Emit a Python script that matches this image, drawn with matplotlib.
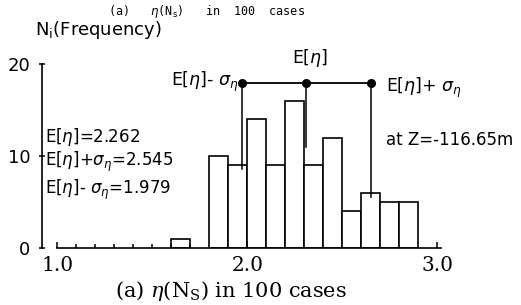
import matplotlib
matplotlib.use("Agg")
import matplotlib.pyplot as plt
import numpy as np

# histogram of eta(Ns), 100 cases, bin width 0.1
bin_left = [1.6, 1.8, 1.9, 2.0, 2.1, 2.2, 2.3, 2.4, 2.5, 2.6, 2.7, 2.8]
counts = [1, 10, 9, 14, 9, 16, 9, 12, 4, 6, 5, 5]
bin_width = 0.1

# E[eta] and +/- sigma markers (as drawn in the figure)
mark_x = [1.974, 2.31, 2.65]
mark_bottom = [8.6, 11.0, 5.5]
mark_top = 17.9

x_ticks = [1.0, 2.0, 3.0]
x_ticklabels = ["1.0", "2.0", "3.0"]
y_ticks = [0, 10, 20]

fig = plt.figure(figsize=(5.21, 3.05), dpi=100)
ax = fig.add_axes([42 / 521, 57 / 305, 404.7 / 521, 184 / 305])

ax.bar(bin_left, counts, width=bin_width, align="edge",
       facecolor="white", edgecolor="black", linewidth=1.2)

ax.plot([mark_x[0], mark_x[-1]], [mark_top, mark_top], color="black", lw=1.3, clip_on=False)
for x, yb in zip(mark_x, mark_bottom):
    ax.plot([x, x], [yb, mark_top], color="black", lw=1.1, clip_on=False)
ax.plot(mark_x, [mark_top] * 3, "o", color="black", ms=5.5, clip_on=False)

ax.set_xlim(0.92, 3.05)
ax.set_ylim(0, 20)

for s in ["top", "right"]:
    ax.spines[s].set_visible(False)
ax.spines["bottom"].set_bounds(1.0, 3.02)
ax.spines["left"].set_bounds(0, 20)
ax.spines["bottom"].set_linewidth(1.2)
ax.spines["left"].set_linewidth(1.2)

ax.set_xticks(x_ticks)
ax.set_xticklabels(x_ticklabels, family="DejaVu Serif", fontsize=14.5)
ax.set_xticks(np.arange(1.1, 1.75, 0.1), minor=True)
ax.tick_params(axis="x", which="major", direction="in", length=4, width=1.1, pad=6)
ax.tick_params(axis="x", which="minor", direction="in", length=3, width=1.1)
ax.set_yticks(y_ticks)
ax.set_yticklabels([str(v) for v in y_ticks], fontsize=13)
ax.tick_params(axis="y", direction="inout", length=5, width=1.1, pad=6)

sans = dict(family="DejaVu Sans", math_fontfamily="dejavusans", fontsize=12.5, clip_on=False)
ax.text(2.33, 20.65, r"E[$\eta$]", ha="center", va="center", **sans)
ax.text(1.953, 18.0, r"E[$\eta$]- $\sigma_\eta$", ha="right", va="center", **sans)
ax.text(2.73, 17.4, r"E[$\eta$]+ $\sigma_\eta$", ha="left", va="center", **sans)
ax.text(2.73, 11.7, "at Z=-116.65m", ha="left", va="center",
        **{**sans, "fontsize": 12})
left = {**sans, "fontsize": 12}
ax.text(0.935, 12.1, r"E[$\eta$]=2.262", ha="left", va="center", **left)
ax.text(0.935, 9.4, r"E[$\eta$]+$\sigma_\eta$=2.545", ha="left", va="center", **left)
ax.text(0.935, 6.3, r"E[$\eta$]- $\sigma_\eta$=1.979", ha="left", va="center", **left)

fig.text(35 / 521, 1 - 30 / 305, r"N$_\mathrm{i}$(Frequency)", ha="left", va="center",
         family="DejaVu Sans", math_fontfamily="dejavusans", fontsize=13)
fig.text(207 / 521, 1 - 12 / 305, r"(a)   $\eta$(N$_\mathrm{s}$)   in  100  cases", ha="center", va="center",
         family="DejaVu Sans Mono", math_fontfamily="dejavusans", fontsize=8.5)
fig.text(231 / 521, 1 - 291 / 305, r"(a) $\eta$(N$_\mathrm{S}$) in 100 cases", ha="center", va="center",
         family="DejaVu Serif", math_fontfamily="dejavuserif", fontsize=15)

fig.savefig("out.png", dpi=100)
